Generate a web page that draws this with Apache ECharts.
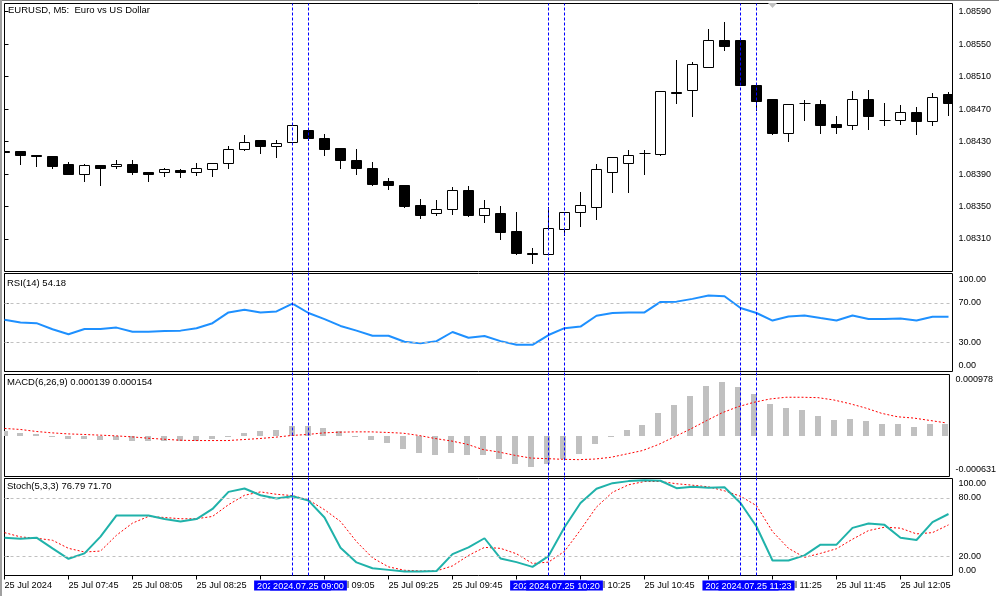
<!DOCTYPE html>
<html>
<head>
<meta charset="utf-8">
<script src="https://cdn.jsdelivr.net/npm/echarts@6/dist/echarts.min.js"></script>
<style>
html,body{margin:0;padding:0;background:#fff;}
#c{width:999px;height:596px;}
</style>
</head>
<body>
<div id="c"></div>
<script>
// ---------- DATA ----------
const tickIdx = [0,4,8,12,16,20,24,28,32,36,40,44,48,52,56];
const tickLabels = ['25 Jul 2024','25 Jul 07:45','25 Jul 08:05','25 Jul 08:25','25 Jul 08:45','25 Jul 09:05','25 Jul 09:25','25 Jul 09:45','25 Jul 10:05','25 Jul 10:25','25 Jul 10:45','25 Jul 11:05','25 Jul 11:25','25 Jul 11:45','25 Jul 12:05'];

const open = [1.08418,1.08418,1.08414,1.08412,1.08402,1.08390,1.08401,1.08400,1.08402,1.08392,
1.08392,1.08395,1.08393,1.08396,1.08403,1.08421,1.08432,1.08424,1.08429,1.08444,
1.08434,1.08422,1.08407,1.08398,1.08381,1.08377,1.08352,1.08342,1.08347,1.08370,
1.08340,1.08342,1.08320,1.08293,1.08292,1.08322,1.08343,1.08350,1.08393,1.08404,
1.08416,1.08415,1.08491,1.08494,1.08522,1.08555,1.08555,1.08500,1.08483,1.08441,
1.08477,1.08476,1.08452,1.08450,1.08483,1.08456,1.08457,1.08467,1.08455,1.08488];
const close = [1.08417,1.08413,1.08412,1.08400,1.08390,1.08401,1.08398,1.08402,1.08392,1.08390,
1.08396,1.08393,1.08397,1.08403,1.08421,1.08429,1.08424,1.08428,1.08450,1.08434,
1.08421,1.08407,1.08397,1.08378,1.08377,1.08351,1.08340,1.08347,1.08370,1.08340,
1.08348,1.08319,1.08293,1.08291,1.08323,1.08343,1.08352,1.08396,1.08411,1.08414,
1.08416,1.08492,1.08490,1.08526,1.08555,1.08548,1.08500,1.08480,1.08440,1.08476,
1.08477,1.08451,1.08448,1.08483,1.08461,1.08456,1.08467,1.08455,1.08485,1.08478];
const high = [1.08419,1.08418,1.08414,1.08412,1.08405,1.08402,1.08401,1.08407,1.08407,1.08392,
1.08397,1.08396,1.08404,1.08404,1.08425,1.08438,1.08432,1.08432,1.08450,1.08444,
1.08439,1.08422,1.08421,1.08405,1.08385,1.08377,1.08359,1.08358,1.08374,1.08375,
1.08358,1.08351,1.08343,1.08299,1.08350,1.08343,1.08368,1.08402,1.08411,1.08420,
1.08420,1.08492,1.08531,1.08528,1.08568,1.08577,1.08555,1.08500,1.08483,1.08476,
1.08481,1.08481,1.08462,1.08492,1.08494,1.08478,1.08475,1.08473,1.08490,1.08491];
const low = [1.08416,1.08402,1.08400,1.08397,1.08390,1.08382,1.08376,1.08397,1.08390,1.08381,
1.08388,1.08386,1.08389,1.08387,1.08398,1.08419,1.08416,1.08411,1.08429,1.08432,
1.08413,1.08398,1.08390,1.08376,1.08372,1.08349,1.08336,1.08340,1.08341,1.08338,
1.08331,1.08310,1.08291,1.08281,1.08292,1.08315,1.08326,1.08335,1.08368,1.08368,
1.08390,1.08414,1.08478,1.08462,1.08522,1.08543,1.08500,1.08469,1.08439,1.08431,
1.08456,1.08440,1.08441,1.08446,1.08446,1.08451,1.08452,1.08439,1.08451,1.08463];

const rsi = [52.7,49.9,49.3,43.1,38.0,43.4,43.4,44.8,40.6,40.6,41.4,41.7,44.2,49.3,60.3,63.1,60.3,61.3,69.3,59.7,
53.5,46.5,41.7,36.5,36.5,30.3,28.7,31.0,40.3,34.4,36.2,31.0,27.2,27.2,37.2,44.2,45.8,56.9,59.7,60.3,
60.3,71.0,71.3,74.1,77.5,76.8,64.8,59.7,52.0,56.2,57.2,54.5,52.0,57.2,53.5,53.5,54.1,52.0,55.8,55.8];

const macdHist = [0.000084,0.000052,0.000037,0.000006,-0.000038,-0.000038,-0.000059,-0.000054,-0.000070,-0.000070,
-0.000070,-0.000070,-0.000070,-0.000038,0.000004,0.000052,0.000084,0.000100,0.000164,0.000164,
0.000132,0.000084,0.000013,-0.000059,-0.000106,-0.000202,-0.000265,-0.000297,-0.000265,-0.000297,
-0.000297,-0.000360,-0.000440,-0.000488,-0.000440,-0.000360,-0.000281,-0.000122,0.000005,0.000100,
0.000179,0.000370,0.000497,0.000640,0.000799,0.000862,0.000783,0.000672,0.000513,0.000449,
0.000418,0.000322,0.000259,0.000275,0.000243,0.000195,0.000195,0.000148,0.000195,0.000195];
const macdSignal = [0.000127,0.000111,0.000079,0.000057,0.000041,0.000032,0.000021,0.000010,-0.000006,-0.000027,
-0.000043,-0.000059,-0.000064,-0.000064,-0.000064,-0.000048,-0.000032,-0.000011,0.000016,0.000032,
0.000057,0.000068,0.000073,0.000073,0.000064,0.000052,0.000016,-0.000032,-0.000070,-0.000122,
-0.000206,-0.000245,-0.000297,-0.000340,-0.000349,-0.000360,-0.000365,-0.000356,-0.000329,-0.000276,
-0.000222,-0.000127,-0.000006,0.000116,0.000248,0.000375,0.000470,0.000540,0.000592,0.000619,
0.000619,0.000613,0.000576,0.000518,0.000449,0.000365,0.000311,0.000291,0.000254,0.000216];

const stochMain = [39.0,38.0,39.0,28.0,17.2,22.8,40.1,61.9,61.9,61.9,58.2,55.7,58.2,68.6,86.2,89.7,82.7,79.3,81.7,77.2,
59.8,28.6,13.5,7.5,5.8,4.1,4.1,4.7,22.1,29.0,38.4,17.6,13.8,8.9,20.0,49.8,74.8,89.4,95.2,97.3,
98.3,97.7,90.0,91.4,90.4,91.0,74.8,50.5,15.5,15.5,20.7,31.8,31.8,49.1,53.6,52.2,39.0,36.6,55.0,63.4];
const stochSignal = [44.2,39.8,38.4,36.3,28.0,24.2,25.2,41.5,54.0,60.9,59.8,58.5,58.5,60.9,73.0,82.7,86.2,83.7,82.4,77.9,
67.8,55.7,34.9,18.2,8.9,5.4,4.7,4.7,9.9,20.7,29.0,28.0,22.4,12.4,13.8,24.9,47.0,70.6,85.8,93.5,
96.9,96.9,94.6,93.1,91.4,87.3,81.7,72.0,45.3,28.0,18.7,22.8,27.6,37.4,46.3,49.8,48.8,42.9,44.2,52.2];

const priceTicks = [1.08310,1.08350,1.08390,1.08430,1.08470,1.08510,1.08550,1.08590];
const rsiTicks = [0,30,70,100];
const macdTicks = [-0.000631,0.000978];
const stochTicks = [0,20,80,100];

const vLines = [18,19,34,35,46,47];
const vLineLabels = ['2024.07.25 08:55','2024.07.25 09:00','2024.07.25 10:15','2024.07.25 10:20','2024.07.25 11:15','2024.07.25 11:23'];

const titleMain = 'EURUSD, M5:  Euro vs US Dollar';
const titleRsi = 'RSI(14) 54.18';
const titleMacd = 'MACD(6,26,9) 0.000139 0.000154';
const titleStoch = 'Stoch(5,3,3) 76.79 71.70';

// ---------- CHART ----------
const FF = 'Liberation Sans';
const chart = echarts.init(document.getElementById('c'), null, {renderer:'canvas'});
const X0 = 4.5, XW = 948, XMAX = 59.25;

function nearestFmt(ticks, dec){
  return function(v){
    let best = ticks[0];
    ticks.forEach(t => { if (Math.abs(t - v) < Math.abs(best - v)) best = t; });
    return best.toFixed(dec);
  };
}

const grids = [
  {left:X0, top:3.5, width:XW, height:268},
  {left:X0, top:273.5, width:XW, height:98},
  {left:X0, top:374.5, width:XW, height:102},
  {left:X0, top:478.5, width:XW, height:97},
  {left:X0, top:3.5, width:XW, height:572}
].map((g,i) => Object.assign(g, {show: i<4, borderColor:'#000', borderWidth:1, backgroundColor: i<4 ? '#fff' : 'transparent', containLabel:false}));

const xAxes = grids.map((g,i) => ({
  type:'value', gridIndex:i, min:0, max:XMAX,
  axisLine:{show:false}, splitLine:{show:false},
  axisTick: i===3 ? {show:true, customValues:tickIdx, length:4, lineStyle:{color:'#000'}} : {show:false},
  axisLabel: i===3 ? {show:true, customValues:tickIdx, align:'left', margin:5, fontSize:9.2, fontFamily:FF, color:'#000',
      formatter: v => tickLabels[tickIdx.indexOf(Math.round(v))] || ''} : {show:false}
}));

function yAx(i, min, max, ticks, labelVals, dec){
  return {
    type:'value', gridIndex:i, position:'right', min:min, max:max,
    axisLine:{show:false}, splitLine:{show:false},
    axisTick:{show:true, customValues:ticks, length:4, lineStyle:{color:'#000'}},
    axisLabel:{show:true, customValues:labelVals, margin:6, fontSize:9, fontFamily:FF, color:'#000',
      formatter: nearestFmt(ticks, dec)}
  };
}
const yAxes = [
  yAx(0, 1.08270, 1.08600, priceTicks, priceTicks, 5),
  yAx(1, 0, 100, rsiTicks, [5.9,30,70,93.4], 2),
  yAx(2, macdTicks[0], macdTicks[1], macdTicks, [-0.000528, 0.000896], 6),
  yAx(3, 0, 100, stochTicks, [5.2,20,80,95.1], 2),
  {type:'value', gridIndex:4, min:0, max:1, show:false}
];

const candleData = open.map((o,i) => [i, o, close[i], low[i], high[i]]);

function renderCandle(params, api){
  const k = api.value(0), o = api.value(1), c = api.value(2), l = api.value(3), h = api.value(4);
  const pO = api.coord([k,o]), pC = api.coord([k,c]), pL = api.coord([k,l]), pH = api.coord([k,h]);
  const x = Math.floor(pO[0]) + 0.5;
  const yT = Math.round(Math.min(pO[1], pC[1])), yB = Math.round(Math.max(pO[1], pC[1]));
  const yH = Math.round(pH[1]), yL = Math.round(pL[1]);
  const bull = c >= o;
  const ch = [];
  ch.push({type:'line', shape:{x1:x, y1:yH, x2:x, y2:yL+1}, style:{stroke:'#000', lineWidth:1}});
  if (yB - yT < 1) {
    ch.push({type:'line', shape:{x1:x-5, y1:yT+0.5, x2:x+6, y2:yT+0.5}, style:{stroke:'#000', lineWidth:1}});
  } else {
    ch.push({type:'rect', shape:{x:x-5, y:yT+0.5, width:10, height:yB-yT}, style:{fill: bull ? '#fff' : '#000', stroke:'#000', lineWidth:1}});
  }
  return {type:'group', children:ch};
}

function renderHist(params, api){
  const k = api.value(0), v = api.value(1);
  const p = api.coord([k, v]), z = api.coord([k, 0]);
  const x = Math.round(p[0] - 3);
  let y1 = Math.round(Math.min(p[1], z[1])), y2 = Math.round(Math.max(p[1], z[1]));
  if (y2 - y1 < 1) y2 = y1 + 1;
  return {type:'rect', shape:{x:x, y:y1, width:6, height:y2-y1}, style:{fill:'#c0c0c0'}};
}

const levelLine = (vals) => ({
  silent:true, symbol:['none','none'], label:{show:false},
  lineStyle:{color:'#c0c0c0', type:[3,3], width:1},
  data: vals.map(v => ({yAxis:v}))
});

const series = [
  {type:'custom', name:'price', xAxisIndex:0, yAxisIndex:0, data:candleData, encode:{x:0, y:[1,2,3,4]}, renderItem:renderCandle, clip:true},
  {type:'line', name:'RSI', xAxisIndex:1, yAxisIndex:1, data: rsi.map((v,i)=>[i,v]), showSymbol:false, symbol:'none',
    lineStyle:{color:'#1e90ff', width:2}, markLine: levelLine([70,30]), clip:true},
  {type:'custom', name:'MACD', xAxisIndex:2, yAxisIndex:2, data: macdHist.map((v,i)=>[i,v]), encode:{x:0,y:1}, renderItem:renderHist, clip:true},
  {type:'line', name:'Signal', xAxisIndex:2, yAxisIndex:2, data: macdSignal.map((v,i)=>[i,v]), showSymbol:false, symbol:'none',
    lineStyle:{color:'#ff0000', width:1, type:[2,2]}, clip:true},
  {type:'line', name:'StochSignal', xAxisIndex:3, yAxisIndex:3, data: stochSignal.map((v,i)=>[i,v]), showSymbol:false, symbol:'none',
    lineStyle:{color:'#ff0000', width:1, type:[2,2]}, clip:true, markLine: levelLine([80,20])},
  {type:'line', name:'StochMain', xAxisIndex:3, yAxisIndex:3, data: stochMain.map((v,i)=>[i,v]), showSymbol:false, symbol:'none',
    lineStyle:{color:'#20b2aa', width:2}, clip:true},
  {type:'line', name:'vlines', xAxisIndex:4, yAxisIndex:4, data:[[0,0]], showSymbol:false, symbol:'none', z:10,
    lineStyle:{opacity:0},
    markLine:{
      silent:true, symbol:['none','none'], z:10,
      lineStyle:{color:'#0000ff', type:[3,2], width:1},
      label:{show:true, position:'start', distance:5, color:'#fff', backgroundColor:'#0000ff',
        fontSize:9.1, fontFamily:FF, padding:[1,3,0,3], formatter: p => p.name},
      data: vLines.map((k,i) => ({xAxis:k, name:vLineLabels[i]}))
    }}
];

const tStyle = {fontSize:9.5, fontWeight:'normal', fontFamily:FF, color:'#000'};
const option = {
  animation:false,
  backgroundColor:'#fff',
  title:[
    {text:titleMain, left:8, top:5, padding:0, textStyle:tStyle},
    {text:titleRsi, left:7, top:278, padding:0, textStyle:tStyle},
    {text:titleMacd, left:7, top:377, padding:0, textStyle:tStyle},
    {text:titleStoch, left:7, top:481, padding:0, textStyle:tStyle}
  ],
  grid: grids,
  xAxis: xAxes,
  yAxis: yAxes,
  series: series,
  graphic:[
    {type:'rect', shape:{x:0, y:0, width:999, height:1}, style:{fill:'#808080'}, z:100, silent:true},
    {type:'rect', shape:{x:0, y:0, width:2, height:596}, style:{fill:'#a0a0a0'}, z:100, silent:true},
    {type:'polygon', shape:{points:[[768,3],[777,3],[772.5,8]]}, style:{fill:'#c0c0c0'}, z:100, silent:true}
  ]
};
chart.setOption(option);
</script>
</body>
</html>
